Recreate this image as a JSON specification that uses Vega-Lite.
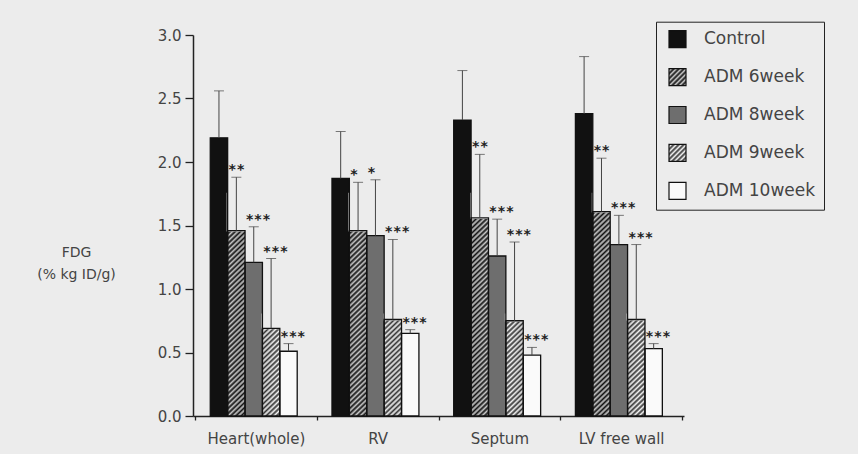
{
  "$schema": "https://vega.github.io/schema/vega-lite/v6.json",
  "width": 491,
  "height": 381,
  "autosize": {"type": "none"},
  "padding": {"left": 193, "top": 35, "right": 174, "bottom": 38},
  "background": "#ececec",
  "config": {"view": {"stroke": null}, "font": "DejaVu Sans"},
  "data": {
    "values": [
      {"organ": "Heart(whole)", "group": "Control", "value": 2.19, "err": 2.56, "sig": ""},
      {"organ": "Heart(whole)", "group": "ADM 6week", "value": 1.46, "err": 1.88, "sig": "**"},
      {"organ": "Heart(whole)", "group": "ADM 8week", "value": 1.21, "err": 1.49, "sig": "***"},
      {"organ": "Heart(whole)", "group": "ADM 9week", "value": 0.69, "err": 1.24, "sig": "***"},
      {"organ": "Heart(whole)", "group": "ADM 10week", "value": 0.51, "err": 0.57, "sig": "***"},
      {"organ": "RV", "group": "Control", "value": 1.87, "err": 2.24, "sig": ""},
      {"organ": "RV", "group": "ADM 6week", "value": 1.46, "err": 1.84, "sig": "*"},
      {"organ": "RV", "group": "ADM 8week", "value": 1.42, "err": 1.86, "sig": "*"},
      {"organ": "RV", "group": "ADM 9week", "value": 0.76, "err": 1.39, "sig": "***"},
      {"organ": "RV", "group": "ADM 10week", "value": 0.65, "err": 0.68, "sig": "***"},
      {"organ": "Septum", "group": "Control", "value": 2.33, "err": 2.72, "sig": ""},
      {"organ": "Septum", "group": "ADM 6week", "value": 1.56, "err": 2.06, "sig": "**"},
      {"organ": "Septum", "group": "ADM 8week", "value": 1.26, "err": 1.55, "sig": "***"},
      {"organ": "Septum", "group": "ADM 9week", "value": 0.75, "err": 1.37, "sig": "***"},
      {"organ": "Septum", "group": "ADM 10week", "value": 0.48, "err": 0.54, "sig": "***"},
      {"organ": "LV free wall", "group": "Control", "value": 2.38, "err": 2.83, "sig": ""},
      {"organ": "LV free wall", "group": "ADM 6week", "value": 1.61, "err": 2.03, "sig": "**"},
      {"organ": "LV free wall", "group": "ADM 8week", "value": 1.35, "err": 1.58, "sig": "***"},
      {"organ": "LV free wall", "group": "ADM 9week", "value": 0.76, "err": 1.35, "sig": "***"},
      {"organ": "LV free wall", "group": "ADM 10week", "value": 0.53, "err": 0.57, "sig": "***"}
    ]
  },
  "encoding": {
    "x": {
      "field": "organ", "type": "nominal", "sort": null,
      "scale": {"paddingInner": 0, "paddingOuter": 0.017},
      "axis": {
        "title": null, "labelAngle": 0, "tickBand": "extent", "tickSize": 4,
        "tickColor": "#222", "tickWidth": 1.3, "domainColor": "#222", "domainWidth": 1.5,
        "labelFont": "DejaVu Sans", "labelFontSize": 15, "labelColor": "#444", "labelPadding": 11
      }
    },
    "xOffset": {
      "field": "group", "type": "nominal", "sort": null,
      "scale": {"paddingInner": 0, "paddingOuter": 1.166, "align": 0.437}
    }
  },
  "layer": [
    {
      "mark": {"type": "bar", "strokeWidth": 0},
      "encoding": {
        "y": {
          "field": "value", "type": "quantitative",
          "scale": {"domain": [0, 3], "nice": false},
          "axis": {
            "title": ["FDG", "(% kg ID/g)"], "titleAngle": 0, "titleAlign": "center", "titleBaseline": "alphabetic",
            "titleX": -117, "titleY": 221, "titleFont": "DejaVu Sans", "titleFontSize": 14, "titleFontWeight": "normal",
            "titleColor": "#444", "titleLineHeight": 22,
            "values": [0, 0.25, 0.5, 0.75, 1, 1.25, 1.5, 1.75, 2, 2.25, 2.5, 2.75, 3],
            "labelExpr": "round(datum.value*4)%2===0 ? format(datum.value,'.1f') : ''",
            "labelFont": "DejaVu Sans", "labelFontSize": 15, "labelColor": "#444", "labelPadding": 4,
            "tickSize": {"condition": {"test": "round(datum.value*4)%2===0", "value": 8}, "value": 4},
            "tickColor": "#222", "tickWidth": 1.3, "domainColor": "#222", "domainWidth": 1.5,
            "grid": false, "labelOverlap": false
          }
        },
        "color": {
          "field": "group", "type": "nominal",
          "scale": {
            "domain": ["Control", "ADM 6week", "ADM 8week", "ADM 9week", "ADM 10week"],
            "range": [
              "#111111",
              {"expr": "{gradient:'linear',x1:0,y1:0,x2:1.17647,y2:1.17647,stops:[{offset:0,color:'#111'},{offset:0.0625,color:'#c8c8c8'},{offset:0.125,color:'#111'},{offset:0.1875,color:'#c8c8c8'},{offset:0.25,color:'#111'},{offset:0.3125,color:'#c8c8c8'},{offset:0.375,color:'#111'},{offset:0.4375,color:'#c8c8c8'},{offset:0.5,color:'#111'},{offset:0.5625,color:'#c8c8c8'},{offset:0.625,color:'#111'},{offset:0.6875,color:'#c8c8c8'},{offset:0.75,color:'#111'},{offset:0.8125,color:'#c8c8c8'},{offset:0.875,color:'#111'},{offset:0.9375,color:'#c8c8c8'},{offset:1,color:'#111'}]}"},
              "#6e6e6e",
              {"expr": "{gradient:'linear',x1:0,y1:0,x2:1.17647,y2:1.17647,stops:[{offset:0,color:'#333'},{offset:0.0625,color:'#f2f2f2'},{offset:0.125,color:'#333'},{offset:0.1875,color:'#f2f2f2'},{offset:0.25,color:'#333'},{offset:0.3125,color:'#f2f2f2'},{offset:0.375,color:'#333'},{offset:0.4375,color:'#f2f2f2'},{offset:0.5,color:'#333'},{offset:0.5625,color:'#f2f2f2'},{offset:0.625,color:'#333'},{offset:0.6875,color:'#f2f2f2'},{offset:0.75,color:'#333'},{offset:0.8125,color:'#f2f2f2'},{offset:0.875,color:'#333'},{offset:0.9375,color:'#f2f2f2'},{offset:1,color:'#333'}]}"},
              "#fafafa"
            ]
          },
          "legend": {
            "orient": "none", "legendX": 463, "legendY": -13.3, "title": null,
            "symbolType": "square", "symbolSize": 289, "symbolStrokeColor": "#111", "symbolStrokeWidth": 1.2,
            "symbolOffset": 4,
            "labelFont": "DejaVu Sans", "labelFontSize": 17, "labelColor": "#444", "labelOffset": 17,
            "rowPadding": 14.9, "padding": 8, "strokeColor": "#222"
          }
        }
      }
    },
    {
      "transform": [{"filter": "datum.group === 'ADM 6week'"}],
      "mark": {
        "type": "bar", "strokeWidth": 0,
        "fill": {
          "gradient": "linear", "x1": 0, "y1": 0, "x2": 0.08355, "y2": 1.11861,
          "stops": [
            {"offset": 0, "color": "#111"}, {"offset": 0.01, "color": "#c8c8c8"}, {"offset": 0.02, "color": "#111"}, {"offset": 0.03, "color": "#c8c8c8"}, {"offset": 0.04, "color": "#111"}, {"offset": 0.05, "color": "#c8c8c8"}, {"offset": 0.06, "color": "#111"}, {"offset": 0.07, "color": "#c8c8c8"}, {"offset": 0.08, "color": "#111"}, {"offset": 0.09, "color": "#c8c8c8"},
            {"offset": 0.1, "color": "#111"}, {"offset": 0.11, "color": "#c8c8c8"}, {"offset": 0.12, "color": "#111"}, {"offset": 0.13, "color": "#c8c8c8"}, {"offset": 0.14, "color": "#111"}, {"offset": 0.15, "color": "#c8c8c8"}, {"offset": 0.16, "color": "#111"}, {"offset": 0.17, "color": "#c8c8c8"}, {"offset": 0.18, "color": "#111"}, {"offset": 0.19, "color": "#c8c8c8"},
            {"offset": 0.2, "color": "#111"}, {"offset": 0.21, "color": "#c8c8c8"}, {"offset": 0.22, "color": "#111"}, {"offset": 0.23, "color": "#c8c8c8"}, {"offset": 0.24, "color": "#111"}, {"offset": 0.25, "color": "#c8c8c8"}, {"offset": 0.26, "color": "#111"}, {"offset": 0.27, "color": "#c8c8c8"}, {"offset": 0.28, "color": "#111"}, {"offset": 0.29, "color": "#c8c8c8"},
            {"offset": 0.3, "color": "#111"}, {"offset": 0.31, "color": "#c8c8c8"}, {"offset": 0.32, "color": "#111"}, {"offset": 0.33, "color": "#c8c8c8"}, {"offset": 0.34, "color": "#111"}, {"offset": 0.35, "color": "#c8c8c8"}, {"offset": 0.36, "color": "#111"}, {"offset": 0.37, "color": "#c8c8c8"}, {"offset": 0.38, "color": "#111"}, {"offset": 0.39, "color": "#c8c8c8"},
            {"offset": 0.4, "color": "#111"}, {"offset": 0.41, "color": "#c8c8c8"}, {"offset": 0.42, "color": "#111"}, {"offset": 0.43, "color": "#c8c8c8"}, {"offset": 0.44, "color": "#111"}, {"offset": 0.45, "color": "#c8c8c8"}, {"offset": 0.46, "color": "#111"}, {"offset": 0.47, "color": "#c8c8c8"}, {"offset": 0.48, "color": "#111"}, {"offset": 0.49, "color": "#c8c8c8"},
            {"offset": 0.5, "color": "#111"}, {"offset": 0.51, "color": "#c8c8c8"}, {"offset": 0.52, "color": "#111"}, {"offset": 0.53, "color": "#c8c8c8"}, {"offset": 0.54, "color": "#111"}, {"offset": 0.55, "color": "#c8c8c8"}, {"offset": 0.56, "color": "#111"}, {"offset": 0.57, "color": "#c8c8c8"}, {"offset": 0.58, "color": "#111"}, {"offset": 0.59, "color": "#c8c8c8"},
            {"offset": 0.6, "color": "#111"}, {"offset": 0.61, "color": "#c8c8c8"}, {"offset": 0.62, "color": "#111"}, {"offset": 0.63, "color": "#c8c8c8"}, {"offset": 0.64, "color": "#111"}, {"offset": 0.65, "color": "#c8c8c8"}, {"offset": 0.66, "color": "#111"}, {"offset": 0.67, "color": "#c8c8c8"}, {"offset": 0.68, "color": "#111"}, {"offset": 0.69, "color": "#c8c8c8"},
            {"offset": 0.7, "color": "#111"}, {"offset": 0.71, "color": "#c8c8c8"}, {"offset": 0.72, "color": "#111"}, {"offset": 0.73, "color": "#c8c8c8"}, {"offset": 0.74, "color": "#111"}, {"offset": 0.75, "color": "#c8c8c8"}, {"offset": 0.76, "color": "#111"}, {"offset": 0.77, "color": "#c8c8c8"}, {"offset": 0.78, "color": "#111"}, {"offset": 0.79, "color": "#c8c8c8"},
            {"offset": 0.8, "color": "#111"}, {"offset": 0.81, "color": "#c8c8c8"}, {"offset": 0.82, "color": "#111"}, {"offset": 0.83, "color": "#c8c8c8"}, {"offset": 0.84, "color": "#111"}, {"offset": 0.85, "color": "#c8c8c8"}, {"offset": 0.86, "color": "#111"}, {"offset": 0.87, "color": "#c8c8c8"}, {"offset": 0.88, "color": "#111"}, {"offset": 0.89, "color": "#c8c8c8"},
            {"offset": 0.9, "color": "#111"}, {"offset": 0.91, "color": "#c8c8c8"}, {"offset": 0.92, "color": "#111"}, {"offset": 0.93, "color": "#c8c8c8"}, {"offset": 0.94, "color": "#111"}, {"offset": 0.95, "color": "#c8c8c8"}, {"offset": 0.96, "color": "#111"}, {"offset": 0.97, "color": "#c8c8c8"}, {"offset": 0.98, "color": "#111"}, {"offset": 0.99, "color": "#c8c8c8"},
            {"offset": 1, "color": "#111"}
          ]
        }
      },
      "encoding": {"y": {"datum": 1.75}, "y2": {"datum": 0}}
    },
    {
      "transform": [{"filter": "datum.group === 'ADM 9week'"}],
      "mark": {
        "type": "bar", "strokeWidth": 0,
        "fill": {
          "gradient": "linear", "x1": 0, "y1": 0, "x2": 0.19578, "y2": 1.1983,
          "stops": [
            {"offset": 0, "color": "#333"}, {"offset": 0.02, "color": "#f2f2f2"}, {"offset": 0.04, "color": "#333"}, {"offset": 0.06, "color": "#f2f2f2"}, {"offset": 0.08, "color": "#333"}, {"offset": 0.1, "color": "#f2f2f2"}, {"offset": 0.12, "color": "#333"}, {"offset": 0.14, "color": "#f2f2f2"}, {"offset": 0.16, "color": "#333"}, {"offset": 0.18, "color": "#f2f2f2"},
            {"offset": 0.2, "color": "#333"}, {"offset": 0.22, "color": "#f2f2f2"}, {"offset": 0.24, "color": "#333"}, {"offset": 0.26, "color": "#f2f2f2"}, {"offset": 0.28, "color": "#333"}, {"offset": 0.3, "color": "#f2f2f2"}, {"offset": 0.32, "color": "#333"}, {"offset": 0.34, "color": "#f2f2f2"}, {"offset": 0.36, "color": "#333"}, {"offset": 0.38, "color": "#f2f2f2"},
            {"offset": 0.4, "color": "#333"}, {"offset": 0.42, "color": "#f2f2f2"}, {"offset": 0.44, "color": "#333"}, {"offset": 0.46, "color": "#f2f2f2"}, {"offset": 0.48, "color": "#333"}, {"offset": 0.5, "color": "#f2f2f2"}, {"offset": 0.52, "color": "#333"}, {"offset": 0.54, "color": "#f2f2f2"}, {"offset": 0.56, "color": "#333"}, {"offset": 0.58, "color": "#f2f2f2"},
            {"offset": 0.6, "color": "#333"}, {"offset": 0.62, "color": "#f2f2f2"}, {"offset": 0.64, "color": "#333"}, {"offset": 0.66, "color": "#f2f2f2"}, {"offset": 0.68, "color": "#333"}, {"offset": 0.7, "color": "#f2f2f2"}, {"offset": 0.72, "color": "#333"}, {"offset": 0.74, "color": "#f2f2f2"}, {"offset": 0.76, "color": "#333"}, {"offset": 0.78, "color": "#f2f2f2"},
            {"offset": 0.8, "color": "#333"}, {"offset": 0.82, "color": "#f2f2f2"}, {"offset": 0.84, "color": "#333"}, {"offset": 0.86, "color": "#f2f2f2"}, {"offset": 0.88, "color": "#333"}, {"offset": 0.9, "color": "#f2f2f2"}, {"offset": 0.92, "color": "#333"}, {"offset": 0.94, "color": "#f2f2f2"}, {"offset": 0.96, "color": "#333"}, {"offset": 0.98, "color": "#f2f2f2"},
            {"offset": 1, "color": "#333"}
          ]
        }
      },
      "encoding": {"y": {"datum": 0.8}, "y2": {"datum": 0}}
    },
    {
      "transform": [{"filter": "datum.group === 'ADM 6week'"}],
      "mark": {"type": "bar", "fill": "#ececec", "stroke": "#ececec", "strokeWidth": 2},
      "encoding": {"y": {"field": "value", "type": "quantitative"}, "y2": {"datum": 1.75}}
    },
    {
      "transform": [{"filter": "datum.group === 'ADM 9week'"}],
      "mark": {"type": "bar", "fill": "#ececec", "stroke": "#ececec", "strokeWidth": 2},
      "encoding": {"y": {"field": "value", "type": "quantitative"}, "y2": {"datum": 0.8}}
    },
    {
      "mark": {"type": "bar", "fill": "transparent", "stroke": "#111", "strokeWidth": 1.3},
      "encoding": {"y": {"field": "value", "type": "quantitative"}}
    },
    {
      "mark": {"type": "rule", "stroke": "#444", "strokeWidth": 1},
      "encoding": {"y": {"field": "value", "type": "quantitative"}, "y2": {"field": "err"}}
    },
    {
      "mark": {"type": "tick", "size": 10, "thickness": 1, "color": "#444"},
      "encoding": {"y": {"field": "err", "type": "quantitative"}}
    },
    {
      "transform": [{"filter": "datum.sig !== ''"}],
      "mark": {
        "type": "text", "align": "left", "baseline": "alphabetic", "dx": -8.3, "dy": -3,
        "font": "DejaVu Sans Mono", "fontSize": 14, "fontWeight": "bold", "color": "#222"
      },
      "encoding": {"y": {"field": "err", "type": "quantitative"}, "text": {"field": "sig"}}
    }
  ]
}
